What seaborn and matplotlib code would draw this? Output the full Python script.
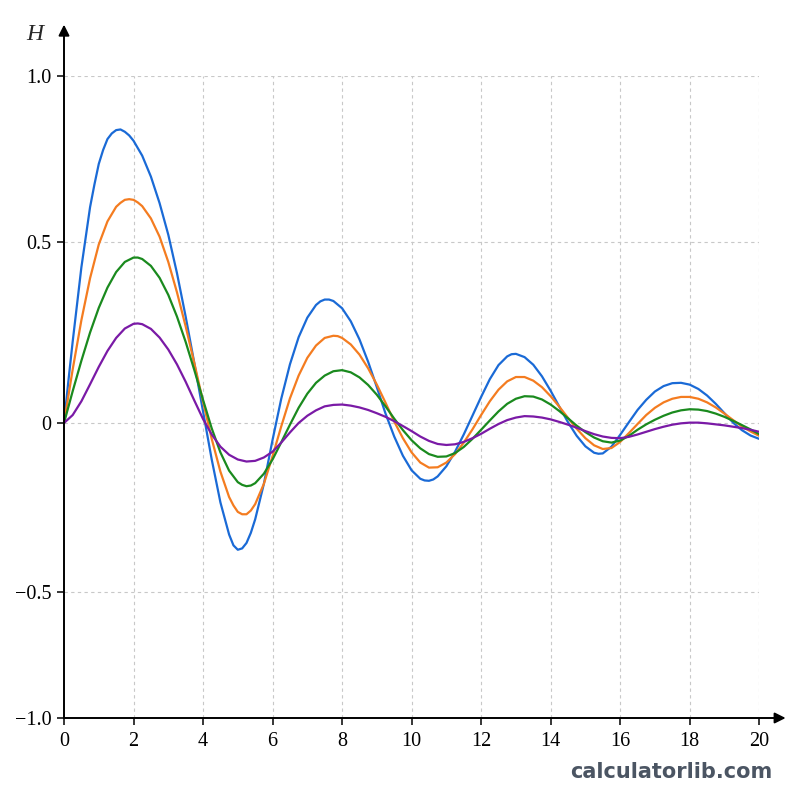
import numpy as np
import pandas as pd
import matplotlib
matplotlib.use("Agg")
import matplotlib.pyplot as plt
import seaborn as sns

# ---------------- data ----------------
# common sampling grid, step 0.25
x_vals = np.arange(0, 20.001, 0.25)

blue = [0.0, 0.225, 0.43, 0.605, 0.735, 0.81, 0.837, 0.832, 0.805, 0.760,
        0.697, 0.617, 0.522, 0.414, 0.294, 0.165, 0.032, -0.108, -0.235, -0.330,
        -0.375, -0.355, -0.285, -0.180, -0.050, 0.067, 0.162, 0.237, 0.291, 0.326,
        0.341, 0.337, 0.317, 0.281, 0.231, 0.169, 0.099, 0.026, -0.040, -0.097,
        -0.140, -0.165, -0.171, -0.158, -0.128, -0.085, -0.034, 0.020, 0.072, 0.121,
        0.160, 0.184, 0.191, 0.182, 0.161, 0.129, 0.089, 0.045, 0.002, -0.038,
        -0.069, -0.088, -0.090, -0.070, -0.035, 0.002, 0.036, 0.064, 0.087, 0.102,
        0.110, 0.111, 0.106, 0.094, 0.076, 0.053, 0.027, 0.001, -0.021, -0.037,
        -0.047]
# extra readings where the curves bend sharply
blue_extra_x = [0.125, 0.875, 1.125, 1.375, 1.625, 1.875, 4.875, 5.125, 5.375,
                7.375, 7.625, 10.375, 10.625, 12.875, 15.375]
blue_extra_y = [0.115, 0.673, 0.777, 0.827, 0.839, 0.821, -0.362, -0.371, -0.325,
                0.336, 0.341, -0.170, -0.167, 0.190, -0.091]

orange = [0.0, 0.148, 0.284, 0.400, 0.493, 0.562, 0.606, 0.627, 0.627, 0.608,
          0.571, 0.516, 0.445, 0.361, 0.267, 0.165, 0.059, -0.047, -0.144, -0.219,
          -0.263, -0.270, -0.240, -0.180, -0.098, -0.010, 0.068, 0.131, 0.180, 0.214,
          0.235, 0.241, 0.235, 0.217, 0.189, 0.151, 0.106, 0.056, 0.004, -0.045,
          -0.087, -0.117, -0.132, -0.131, -0.117, -0.092, -0.058, -0.019, 0.022, 0.060,
          0.092, 0.115, 0.127, 0.127, 0.117, 0.099, 0.074, 0.045, 0.014, -0.017,
          -0.045, -0.066, -0.077, -0.074, -0.056, -0.030, -0.003, 0.022, 0.042, 0.057,
          0.067, 0.072, 0.072, 0.067, 0.057, 0.043, 0.026, 0.008, -0.010, -0.025,
          -0.038]
orange_extra_x = [1.625, 1.875, 2.125, 4.875, 5.125, 5.375, 7.875]
orange_extra_y = [0.618, 0.629, 0.619, -0.244, -0.270, -0.259, 0.240]

green = [0.0, 0.088, 0.172, 0.250, 0.318, 0.374, 0.417, 0.445, 0.457, 0.453,
         0.434, 0.401, 0.354, 0.294, 0.224, 0.146, 0.064, -0.016, -0.087, -0.141,
         -0.175, -0.187, -0.178, -0.150, -0.108, -0.057, -0.005, 0.042, 0.081, 0.111,
         0.131, 0.143, 0.146, 0.140, 0.126, 0.105, 0.078, 0.046, 0.012, -0.021,
         -0.051, -0.075, -0.092, -0.100, -0.099, -0.089, -0.071, -0.047, -0.020, 0.007,
         0.032, 0.053, 0.067, 0.074, 0.073, 0.065, 0.051, 0.033, 0.013, -0.008,
         -0.027, -0.043, -0.054, -0.058, -0.052, -0.038, -0.020, -0.004, 0.009, 0.020,
         0.029, 0.035, 0.038, 0.037, 0.033, 0.026, 0.017, 0.006, -0.006, -0.019,
         -0.033]
green_extra_x = [2.125, 5.125, 5.375]
green_extra_y = [0.457, -0.183, -0.185]

purple = [0.0, 0.022, 0.060, 0.107, 0.155, 0.199, 0.235, 0.261, 0.274, 0.273,
          0.260, 0.236, 0.203, 0.162, 0.114, 0.062, 0.011, -0.034, -0.070, -0.094,
          -0.108, -0.114, -0.112, -0.102, -0.085, -0.058, -0.028, 0.000, 0.020, 0.035,
          0.046, 0.050, 0.051, 0.048, 0.043, 0.036, 0.027, 0.017, 0.005, -0.009,
          -0.024, -0.040, -0.053, -0.062, -0.065, -0.063, -0.056, -0.045, -0.032, -0.017,
          -0.003, 0.008, 0.015, 0.019, 0.018, 0.015, 0.010, 0.003, -0.005, -0.014,
          -0.024, -0.033, -0.040, -0.044, -0.045, -0.041, -0.034, -0.026, -0.018, -0.011,
          -0.005, -0.001, 0.001, 0.001, -0.001, -0.004, -0.007, -0.011, -0.015, -0.020,
          -0.026]
purple_extra_x = [2.125]
purple_extra_y = [0.275]

series_names = ["a", "b", "c", "d"]
series_values = [blue, orange, green, purple]
series_extra_x = [blue_extra_x, orange_extra_x, green_extra_x, purple_extra_x]
series_extra_y = [blue_extra_y, orange_extra_y, green_extra_y, purple_extra_y]
colors = ["#1a6ad6", "#f47c20", "#1a8a1e", "#7a1aa6"]

x_ticks = [0, 2, 4, 6, 8, 10, 12, 14, 16, 18, 20]
y_ticks = [-1.0, -0.5, 0.0, 0.5, 1.0]
y_tick_labels = ["\u22121.0", "\u22120.5", "0", "0.5", "1.0"]
# relative positions of the y ticks as drawn in the reference (uneven spacing)
y_tick_pos = [0.0, 126 / 642, 295 / 642, 476 / 642, 1.0]

frames = []
for n, v, ex, ey in zip(series_names, series_values, series_extra_x, series_extra_y):
    frames.append(pd.DataFrame({"x": x_vals, "H": v, "s": n}))
    frames.append(pd.DataFrame({"x": ex, "H": ey, "s": n}))
df = pd.concat(frames, ignore_index=True).sort_values(["s", "x"]).reset_index(drop=True)

# ---------------- figure ----------------
sns.set_theme(style="white")
plt.rcParams["font.family"] = ["Liberation Serif", "DejaVu Serif"]

fig = plt.figure(figsize=(8, 8), dpi=100)
ax = fig.add_axes([0.08, 0.1025, 0.869, 0.8025])

def fwd(v):
    return np.interp(v, y_ticks, y_tick_pos)

def inv(p):
    return np.interp(p, y_tick_pos, y_ticks)

sns.lineplot(data=df, x="x", y="H", hue="s", hue_order=series_names, palette=colors,
             legend=False, linewidth=1.6, ax=ax, sort=True,
             solid_joinstyle="round", solid_capstyle="round")

ax.set_yscale("function", functions=(fwd, inv))
ax.set_xlim(0, 20)
ax.set_ylim(-1, 1)
ax.set_xticks(x_ticks)
ax.set_xticklabels([str(t) for t in x_ticks])
ax.set_yticks(y_ticks)
ax.set_yticklabels(y_tick_labels)
ax.minorticks_off()
ax.set_xlabel("")
ax.set_ylabel("")

# grid
for t in x_ticks[1:]:
    ax.axvline(t, color="#c8c8c8", lw=0.8, ls=(0, (3, 3)), zorder=0)
for t in y_ticks[1:]:
    ax.axhline(t, color="#c8c8c8", lw=0.8, ls=(0, (3, 3)), zorder=0)

for sp in ax.spines.values():
    sp.set_visible(False)

ax.tick_params(axis="both", direction="out", length=5, width=1.1, color="black",
               labelsize=14.5, labelcolor="black", bottom=True, left=True)
ax.tick_params(axis="x", pad=5)
ax.tick_params(axis="y", pad=4)

# axes with arrows
ax.annotate("", xy=(0, 1.08), xytext=(0, 0), xycoords="axes fraction",
            arrowprops=dict(arrowstyle="-|>", color="black", lw=1.4,
                            mutation_scale=16, shrinkA=0, shrinkB=0), annotation_clip=False)
ax.annotate("", xy=(1.038, 0), xytext=(0, 0), xycoords="axes fraction",
            arrowprops=dict(arrowstyle="-|>", color="black", lw=1.4,
                            mutation_scale=16, shrinkA=0, shrinkB=0), annotation_clip=False)

fig.text(35 / 800, 1 - 35 / 800, "H", fontsize=17, style="italic", ha="center", va="center",
         family=["Liberation Serif", "DejaVu Serif"])

fig.text(671 / 800, 1 - 772 / 800, "calculatorlib.com", fontsize=15, fontweight="bold",
         color="#4b5563", ha="center", va="center", family=["DejaVu Sans"])

fig.savefig("out.png", dpi=100)
